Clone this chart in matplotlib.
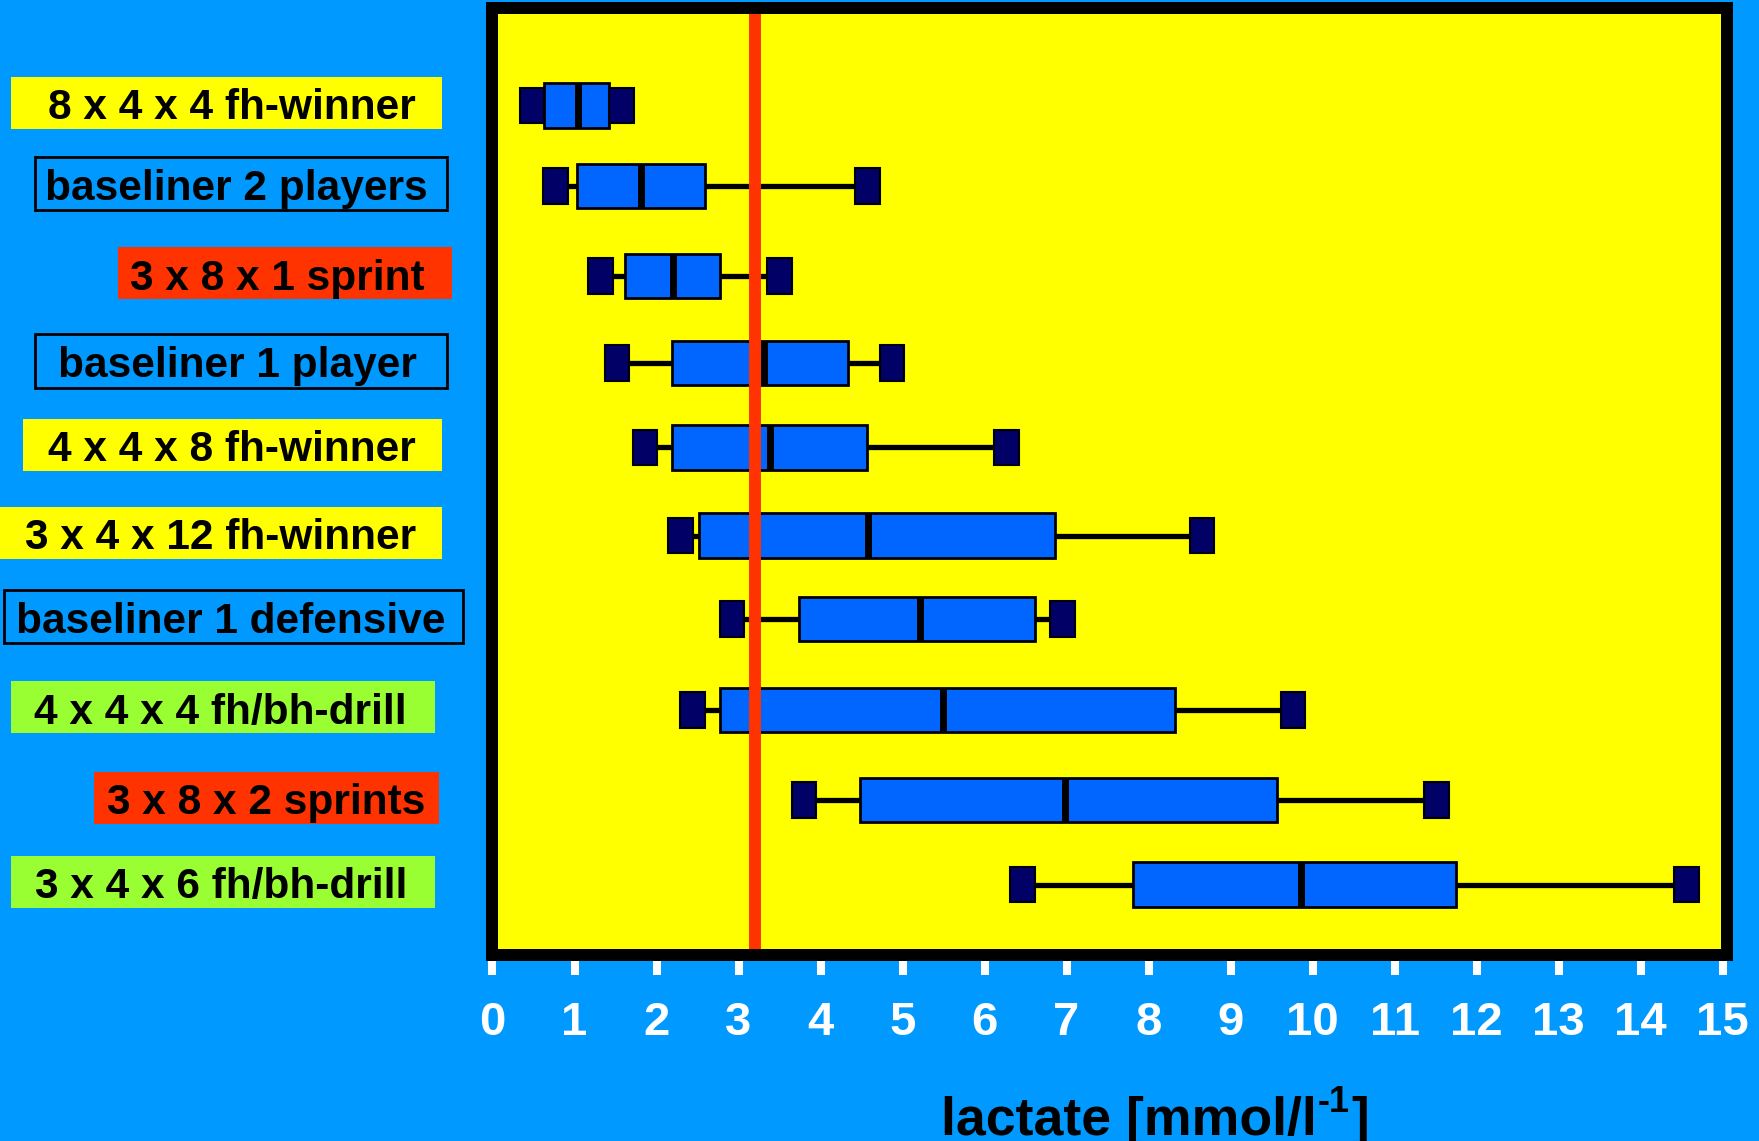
import numpy as np
import matplotlib
matplotlib.use("Agg")
import matplotlib.pyplot as plt
from matplotlib.patches import Rectangle
from matplotlib.transforms import blended_transform_factory

# ---------------- data ----------------
categories = ["8 x 4 x 4 fh-winner", "baseliner 2 players", "3 x 8 x 1 sprint",
              "baseliner 1 player", "4 x 4 x 8 fh-winner", "3 x 4 x 12 fh-winner",
              "baseliner 1 defensive", "4 x 4 x 4 fh/bh-drill", "3 x 8 x 2 sprints",
              "3 x 4 x 6 fh/bh-drill"]
whislo = [0.48, 0.77, 1.32, 1.52, 1.86, 2.29, 2.92, 2.44, 3.80, 6.46]
q1     = [0.63, 1.03, 1.61, 2.19, 2.19, 2.52, 3.74, 2.77, 4.48, 7.81]
med    = [1.04, 1.81, 2.20, 3.31, 3.38, 4.58, 5.21, 5.49, 6.98, 9.86]
q3     = [1.42, 2.59, 2.78, 4.33, 4.57, 6.86, 6.61, 8.32, 9.57, 11.75]
whishi = [1.57, 4.57, 3.50, 4.87, 6.27, 8.65, 6.95, 9.76, 11.51, 14.56]
threshold = 3.2
tick_values = list(range(16))
tick_labels = ["0", "1", "2", "3", "4", "5", "6", "7", "8", "9",
               "10", "11", "12", "13", "14", "15"]
xlabel_main = "lactate [mmol/l"
xlabel_sup = "-1"
xlabel_end = "]"

# ---------------- layout / style ----------------
BG = "#0099FF"
PLOT_BG = "#FFFF00"
BOX = "#0066FF"
CAP = "#000066"
RED = "#FF3300"
GREEN = "#99FF33"
# row positions (slightly uneven in the original slide)
row_pos = [10.0, 9.067, 8.030, 7.021, 6.049, 5.032, 4.068, 3.019, 1.974, 1.0]
label_fill = [PLOT_BG, None, RED, None, PLOT_BG, PLOT_BG, None, GREEN, RED, GREEN]
label_x0 = [11, 35, 118, 35, 23, 0, 4, 11, 94, 11]        # px
label_x1 = [442, 447, 452, 447, 442, 442, 463, 435, 439, 435]
label_tx = [416, 428, 425, 417, 416, 416, 446, 407, 425, 407]

W, H = 1759, 1141
FONT = ['Liberation Sans', 'DejaVu Sans']

fig = plt.figure(figsize=(W / 100, H / 100), dpi=100, facecolor=BG)
ax_l, ax_r, ax_t, ax_b = 492.5, 1726.7, 8, 955
ax = fig.add_axes([ax_l / W, 1 - ax_b / H, (ax_r - ax_l) / W, (ax_b - ax_t) / H])
ax.set_facecolor(PLOT_BG)

stats = [dict(label=c, whislo=a, q1=b, med=m, q3=d, whishi=e, fliers=[])
         for c, a, b, m, d, e in zip(categories, whislo, q1, med, q3, whishi)]
ax.bxp(stats, positions=row_pos, widths=0.51, orientation='horizontal',
       patch_artist=True, showcaps=False, showfliers=False,
       boxprops=dict(facecolor=BOX, edgecolor='black', linewidth=2.0),
       whiskerprops=dict(color='black', linewidth=3.8, solid_capstyle='butt'),
       medianprops=dict(color='black', linewidth=5.0, solid_capstyle='butt'))

cap_w = 0.30
cap_h = 0.415
ax.barh(row_pos, cap_w, left=np.array(whislo) - cap_w / 2, height=cap_h,
        color=CAP, edgecolor='black', linewidth=1.5, zorder=3)
ax.barh(row_pos, cap_w, left=np.array(whishi) - cap_w / 2, height=cap_h,
        color=CAP, edgecolor='black', linewidth=1.5, zorder=3)

ax.axvline(threshold, color=RED, linewidth=8.6, zorder=4)

ax.set_xlim(0.012, 15.05)
ax.set_ylim(0.186, 11.126)
ax.set_yticks([])
ax.set_xticks(tick_values, labels=tick_labels, fontsize=34, fontweight='bold',
              family=FONT, color='white')
ax.tick_params(axis='x', direction='out', length=14.4, width=5.8, color='white',
               pad=19)
for s in ax.spines.values():
    s.set_linewidth(8.64)
    s.set_color('black')
    s.set_zorder(5)

# category labels on the left
tr = blended_transform_factory(fig.transFigure, ax.transData)
for i, (cat, y) in enumerate(zip(categories, row_pos)):
    fill = label_fill[i]
    hh = 0.6 if fill else 0.62
    yc = y + 0.03
    if fill:
        r = Rectangle((label_x0[i] / W, yc - hh / 2), (label_x1[i] - label_x0[i]) / W, hh,
                      transform=tr, facecolor=fill, edgecolor='none')
    else:
        r = Rectangle((label_x0[i] / W, yc - hh / 2), (label_x1[i] - label_x0[i]) / W, hh,
                      transform=tr, facecolor='none', edgecolor='black', linewidth=2.0)
    fig.add_artist(r)
    fig.text(label_tx[i] / W, y - 0.16, cat, transform=tr, ha='right', va='baseline',
             fontsize=30.5, fontweight='bold', family=FONT, color='black')

# x-axis title built from pieces (superscript with a plain hyphen)
base_y = 1 - 1135 / H
t1 = fig.text(0, base_y, xlabel_main, ha='left', va='baseline',
              fontsize=38.6, fontweight='bold', family=FONT, color='black')
t2 = fig.text(0, base_y + 23 / H, xlabel_sup, ha='left', va='baseline',
              fontsize=26, fontweight='bold', family=FONT, color='black')
t3 = fig.text(0, base_y, xlabel_end, ha='left', va='baseline',
              fontsize=38.6, fontweight='bold', family=FONT, color='black')
fig.canvas.draw()
rend = fig.canvas.get_renderer()
w1 = t1.get_window_extent(rend).width
w2 = t2.get_window_extent(rend).width
w3 = t3.get_window_extent(rend).width
total = w1 + w2 + w3
x0 = 1154 - total / 2
t1.set_x(x0 / W)
t2.set_x((x0 + w1 + 1) / W)
t3.set_x((x0 + w1 + w2 + 2) / W)

fig.savefig("out.png", dpi=100, facecolor=BG)
